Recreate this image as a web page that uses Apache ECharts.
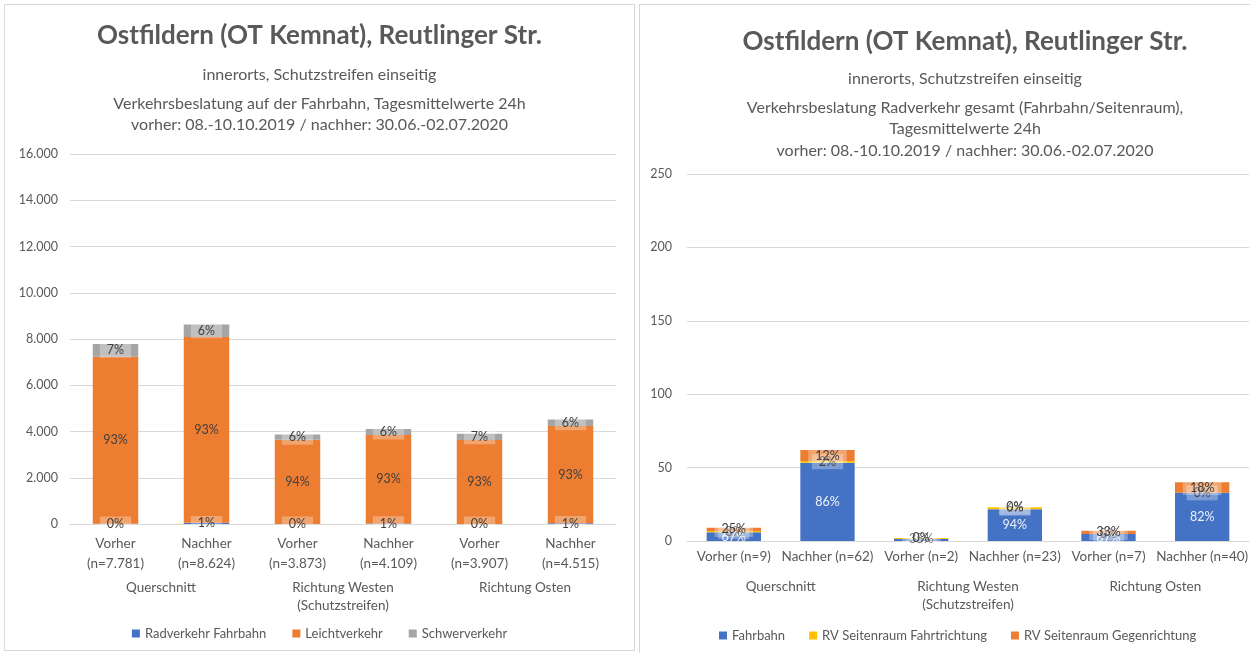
<!DOCTYPE html>
<html>
<head>
<meta charset="utf-8">
<script src="https://cdn.jsdelivr.net/npm/echarts@6/dist/echarts.min.js"></script>
<style>
  body { margin: 0; background: #fff; overflow: hidden; }
  .box { position: absolute; border: 1px solid #d9d9d9; background: #fff; }
  #left { left: 4px; top: 4px; width: 629px; height: 645px; }
  #right { left: 639px; top: 4px; width: 650px; height: 650px; }
</style>
</head>
<body>
<div id="left" class="box"></div>
<div id="right" class="box"></div>
<script>
var phases = ['Vorher', 'Nachher', 'Vorher', 'Nachher', 'Vorher', 'Nachher'];
var groups = ['Querschnitt', 'Richtung Westen\n(Schutzstreifen)', 'Richtung Osten'];

// links: Kfz auf der Fahrbahn
var kfzN = [7781, 8624, 3873, 4109, 3907, 4515];
var radFahrbahn = [6.0, 53.3, 1.3, 21.6, 4.7, 32.8];
var leichtverkehr = [7230, 8038, 3637, 3832, 3627, 4202];
var schwerverkehr = [545, 533, 235, 255, 275, 280];

// rechts: Radverkehr gesamt
var radN = [9, 62, 2, 23, 7, 40];
var fahrbahn = [6.0, 53.3, 1.3, 21.6, 4.7, 32.8];
var seitenFahrt = [0.75, 1.2, 0.7, 1.4, 0, 0];
var seitenGegen = [2.25, 7.5, 0, 0, 2.3, 7.2];

var FONT = 'Lato';
var GREY = '#595959';
var LINE = '#d9d9d9';

function dots(v) {
    return String(v).replace(/\B(?=(\d{3})+(?!\d))/g, '.');
}

function pct(totals) {
    return function (p) {
        return Math.round(p.value / totals[p.dataIndex] * 100) + '%';
    };
}

function boxLabel(totals, color, box) {
    return {
        show: true,
        position: 'inside',
        formatter: pct(totals),
        color: color,
        fontFamily: FONT,
        fontSize: 12.5,
        backgroundColor: box ? 'rgba(255,255,255,0.3)' : 'transparent',
        padding: [1, 7]
    };
}

// Titel + Untertitel, y-Positionen je Diagramm
function titles(lines, y) {
    return [{
        text: 'Ostfildern (OT Kemnat), Reutlinger Str.',
        left: 'center',
        top: y[0],
        textStyle: { fontFamily: FONT, fontSize: 26, fontWeight: 'bold', color: GREY }
    }, {
        text: 'innerorts, Schutzstreifen einseitig',
        left: 'center',
        top: y[1],
        textStyle: { fontFamily: FONT, fontSize: 16, fontWeight: 'normal', color: GREY }
    }, {
        text: lines,
        left: 'center',
        top: y[2],
        textStyle: { fontFamily: FONT, fontSize: 16, fontWeight: 'normal', color: GREY, lineHeight: 21.5 }
    }];
}

var legendText = { fontFamily: FONT, fontSize: 13, color: GREY };
var tickText = { color: GREY, fontFamily: FONT, fontSize: 13.5 };

// ---------- linkes Diagramm ----------
var leftChart = echarts.init(document.getElementById('left'), null, { renderer: 'canvas' });
leftChart.setOption({
    animation: false,
    title: titles('Verkehrsbeslatung auf der Fahrbahn, Tagesmittelwerte 24h\nvorher: 08.-10.10.2019 / nachher: 30.06.-02.07.2020', [13, 57, 83]),
    legend: {
        bottom: 5,
        left: 'center',
        icon: 'rect',
        itemWidth: 8,
        itemHeight: 8,
        itemGap: 26,
        textStyle: legendText
    },
    grid: { left: 65, top: 149, width: 546, height: 370, containLabel: false, outerBoundsMode: 'none' },
    xAxis: [{
        type: 'category',
        data: phases.map(function (p, i) { return p + '\n(n=' + dots(kfzN[i]) + ')'; }),
        axisLine: { lineStyle: { color: LINE } },
        axisTick: { length: 5, lineStyle: { color: LINE } },
        axisLabel: Object.assign({ interval: 0, margin: 10, lineHeight: 20 }, tickText)
    }, {
        type: 'category',
        data: groups,
        position: 'bottom',
        axisLine: { show: false },
        axisTick: { length: 46, lineStyle: { color: LINE } },
        axisLabel: Object.assign({ interval: 0, margin: 55, lineHeight: 18 }, tickText)
    }, {
        type: 'category',
        data: groups,
        position: 'bottom',
        offset: 46,
        axisLine: { show: false },
        axisTick: { alignWithLabel: true, interval: function (i) { return i > 0; }, length: 51, lineStyle: { color: LINE } },
        axisLabel: { show: false }
    }, {
        type: 'category',
        data: groups,
        position: 'bottom',
        offset: 46,
        axisLine: { show: false },
        axisTick: { interval: function (i) { return i === 0; }, length: 51, lineStyle: { color: LINE } },
        axisLabel: { show: false }
    }],
    yAxis: {
        type: 'value',
        min: 0,
        max: 16000,
        interval: 2000,
        axisLine: { show: false },
        axisTick: { show: false },
        splitLine: { lineStyle: { color: LINE } },
        axisLabel: { margin: 12, color: GREY, fontFamily: FONT, fontSize: 12.5, formatter: dots }
    },
    series: [{
        name: 'Radverkehr Fahrbahn',
        type: 'bar',
        stack: 'kfz',
        barWidth: '50%',
        data: radFahrbahn,
        itemStyle: { color: '#4472C4' },
        label: boxLabel(kfzN, '#404040', true)
    }, {
        name: 'Leichtverkehr',
        type: 'bar',
        stack: 'kfz',
        data: leichtverkehr,
        itemStyle: { color: '#ED7D31' },
        label: boxLabel(kfzN, '#404040', false)
    }, {
        name: 'Schwerverkehr',
        type: 'bar',
        stack: 'kfz',
        data: schwerverkehr,
        itemStyle: { color: '#A5A5A5' },
        label: boxLabel(kfzN, '#404040', true)
    }]
});

// ---------- rechtes Diagramm ----------
var rightChart = echarts.init(document.getElementById('right'), null, { renderer: 'canvas' });
rightChart.setOption({
    animation: false,
    title: titles('Verkehrsbeslatung Radverkehr gesamt (Fahrbahn/Seitenraum),\nTagesmittelwerte 24h\nvorher: 08.-10.10.2019 / nachher: 30.06.-02.07.2020', [19, 61, 87]),
    legend: {
        bottom: 8,
        left: 74,
        icon: 'rect',
        itemWidth: 8,
        itemHeight: 8,
        itemGap: 24,
        textStyle: legendText
    },
    grid: { left: 47, top: 169, width: 562, height: 367, containLabel: false, outerBoundsMode: 'none' },
    xAxis: [{
        type: 'category',
        data: phases.map(function (p, i) { return p + ' (n=' + radN[i] + ')'; }),
        axisLine: { lineStyle: { color: LINE } },
        axisTick: { show: false },
        axisLabel: Object.assign({ interval: 0, margin: 9 }, tickText)
    }, {
        type: 'category',
        data: groups,
        position: 'bottom',
        axisLine: { show: false },
        axisTick: { length: 86, lineStyle: { color: LINE } },
        axisLabel: Object.assign({ interval: 0, margin: 37, lineHeight: 18 }, tickText)
    }],
    yAxis: {
        type: 'value',
        min: 0,
        max: 250,
        interval: 50,
        axisLine: { show: false },
        axisTick: { show: false },
        splitLine: { lineStyle: { color: LINE } },
        axisLabel: { margin: 15, color: GREY, fontFamily: FONT, fontSize: 12.5 }
    },
    series: [{
        name: 'Fahrbahn',
        type: 'bar',
        stack: 'rad',
        barWidth: '58%',
        data: fahrbahn,
        itemStyle: { color: '#4472C4' },
        label: boxLabel(radN, '#eef1f8', false)
    }, {
        name: 'RV Seitenraum Fahrtrichtung',
        type: 'bar',
        stack: 'rad',
        data: seitenFahrt,
        itemStyle: { color: '#FFC000' },
        label: boxLabel(radN, '#404040', true)
    }, {
        name: 'RV Seitenraum Gegenrichtung',
        type: 'bar',
        stack: 'rad',
        data: seitenGegen,
        itemStyle: { color: '#ED7D31' },
        label: boxLabel(radN, '#404040', true)
    }]
});
</script>
</body>
</html>
